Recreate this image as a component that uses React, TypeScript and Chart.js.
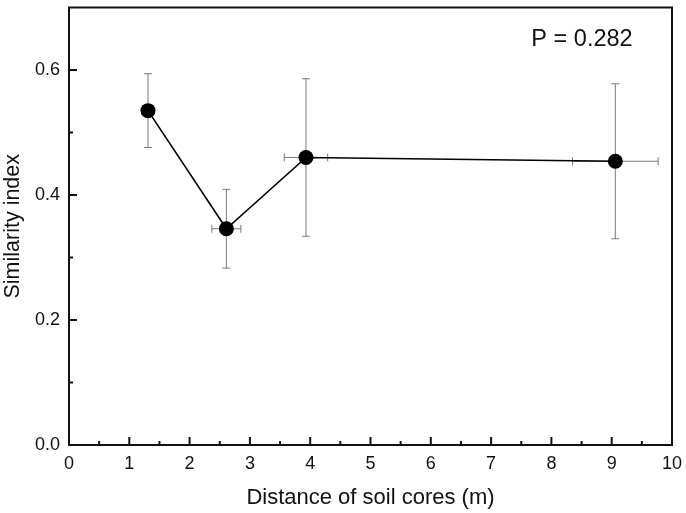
import React, { useEffect, useRef } from "react";
import { Chart, registerables } from "chart.js";

Chart.register(...registerables);

const xValues = [1.31, 2.61, 3.93, 9.06];
const yValues = [0.535, 0.346, 0.46, 0.454];
const xErrors = [0.09, 0.24, 0.36, 0.71];
const yErrors = [0.059, 0.063, 0.126, 0.124];
const xTicks = [0, 1, 2, 3, 4, 5, 6, 7, 8, 9, 10];
const xMinorTicks = [0.5, 1.5, 2.5, 3.5, 4.5, 5.5, 6.5, 7.5, 8.5, 9.5];
const yTicks = [0, 0.2, 0.4, 0.6];
const yMinorTicks = [0.1, 0.3, 0.5];
const xTitle = "Distance of soil cores (m)";
const yTitle = "Similarity index";
const annotation = "P = 0.282";

const FONT = "'Liberation Sans', Arial, sans-serif";

const decorPlugin = {
  id: "decor",
  beforeDatasetsDraw(chart: any) {
    const { ctx, scales } = chart;
    const xs = scales.x;
    const ys = scales.y;
    ctx.save();
    ctx.strokeStyle = "#7a7a7a";
    ctx.lineWidth = 1;
    const cap = 4;
    for (let i = 0; i < xValues.length; i++) {
      const px = xs.getPixelForValue(xValues[i]);
      const py = ys.getPixelForValue(yValues[i]);
      const yTop = ys.getPixelForValue(yValues[i] + yErrors[i]);
      const yBot = ys.getPixelForValue(yValues[i] - yErrors[i]);
      const xL = xs.getPixelForValue(xValues[i] - xErrors[i]);
      const xR = xs.getPixelForValue(xValues[i] + xErrors[i]);
      ctx.beginPath();
      ctx.moveTo(px, yTop);
      ctx.lineTo(px, yBot);
      ctx.moveTo(px - cap, yTop);
      ctx.lineTo(px + cap, yTop);
      ctx.moveTo(px - cap, yBot);
      ctx.lineTo(px + cap, yBot);
      ctx.moveTo(xL, py);
      ctx.lineTo(xR, py);
      ctx.moveTo(xL, py - cap);
      ctx.lineTo(xL, py + cap);
      ctx.moveTo(xR, py - cap);
      ctx.lineTo(xR, py + cap);
      ctx.stroke();
    }
    ctx.restore();
  },
  afterDraw(chart: any) {
    const { ctx, chartArea, scales } = chart;
    const xs = scales.x;
    const ys = scales.y;
    const { left, right, top, bottom } = chartArea;
    ctx.save();
    ctx.strokeStyle = "#111";
    ctx.lineWidth = 2;
    ctx.strokeRect(left, top, right - left, bottom - top);
    ctx.beginPath();
    for (const v of xTicks) {
      const p = xs.getPixelForValue(v);
      ctx.moveTo(p, bottom);
      ctx.lineTo(p, bottom - 8);
    }
    for (const v of xMinorTicks) {
      const p = xs.getPixelForValue(v);
      ctx.moveTo(p, bottom);
      ctx.lineTo(p, bottom - 4);
    }
    for (const v of yTicks) {
      const p = ys.getPixelForValue(v);
      ctx.moveTo(left, p);
      ctx.lineTo(left + 8, p);
    }
    for (const v of yMinorTicks) {
      const p = ys.getPixelForValue(v);
      ctx.moveTo(left, p);
      ctx.lineTo(left + 4, p);
    }
    ctx.stroke();
    ctx.fillStyle = "#111";
    ctx.font = `23.5px ${FONT}`;
    ctx.textAlign = "center";
    ctx.textBaseline = "middle";
    ctx.fillText(annotation, 582, 40);
    ctx.restore();
  },
};

export default function App() {
  const ref = useRef<HTMLCanvasElement | null>(null);
  useEffect(() => {
    document.body.style.margin = "0";
    const canvas = ref.current;
    if (!canvas) return;
    const chart = new Chart(canvas, {
      type: "scatter",
      data: {
        datasets: [
          {
            data: xValues.map((x, i) => ({ x, y: yValues[i] })),
            showLine: true,
            borderColor: "#000",
            borderWidth: 1.6,
            backgroundColor: "#000",
            pointBackgroundColor: "#000",
            pointBorderColor: "#000",
            pointBorderWidth: 0,
            pointRadius: 7.5,
            pointHoverRadius: 7.5,
          },
        ],
      },
      options: {
        responsive: false,
        animation: false,
        devicePixelRatio: 1,
        layout: { padding: { top: 5, right: 14, left: 0, bottom: 0 } },
        plugins: {
          legend: { display: false },
          tooltip: { enabled: false },
        },
        scales: {
          x: {
            type: "linear",
            min: 0,
            max: 10,
            afterBuildTicks: (s: any) => {
              s.ticks = xTicks.map((v) => ({ value: v }));
            },
            afterFit: (s: any) => {
              s.height = 68;
              s.paddingLeft = 0;
              s.paddingRight = 0;
            },
            grid: { display: false, drawTicks: false },
            border: { display: false },
            ticks: {
              color: "#111",
              padding: 8,
              font: { family: FONT, size: 18 },
              callback: (v: any) => String(v),
            },
            title: {
              display: true,
              text: xTitle,
              color: "#111",
              font: { family: FONT, size: 22 },
              padding: { top: 0, bottom: 2 },
            },
          },
          y: {
            type: "linear",
            min: 0,
            max: 0.7,
            afterBuildTicks: (s: any) => {
              s.ticks = yTicks.map((v) => ({ value: v }));
            },
            afterFit: (s: any) => {
              s.width = 69;
              s.paddingTop = 0;
              s.paddingBottom = 0;
            },
            grid: { display: false, drawTicks: false },
            border: { display: false },
            ticks: {
              color: "#111",
              padding: 9,
              font: { family: FONT, size: 18 },
              callback: (v: any) => Number(v).toFixed(1),
            },
            title: {
              display: true,
              text: yTitle,
              color: "#111",
              font: { family: FONT, size: 21.5 },
              padding: { top: 0, bottom: 0 },
            },
          },
        },
      },
      plugins: [decorPlugin],
    });
    return () => chart.destroy();
  }, []);
  return (
    <div style={{ width: 686, height: 513 }}>
      <canvas ref={ref} width={686} height={513} />
    </div>
  );
}
